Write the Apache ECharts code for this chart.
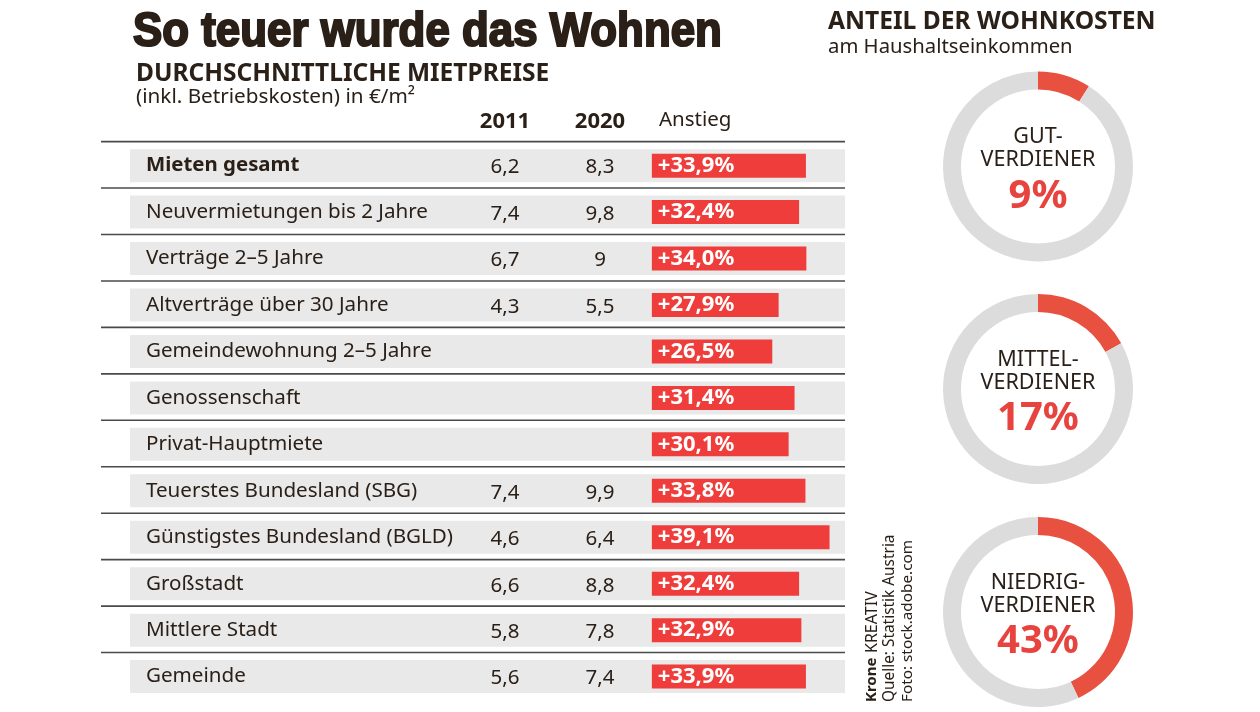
<!DOCTYPE html>
<html>
<head>
<meta charset="utf-8">
<title>So teuer wurde das Wohnen</title>
<style>
  html, body { margin: 0; padding: 0; background: #fff; }
  #main { width: 1260px; height: 712px; }
</style>
<script src="https://cdn.jsdelivr.net/npm/echarts@6/dist/echarts.min.js"></script>
</head>
<body>
<div id="main"></div>
<script>
// Tabelle
var categories = ["Mieten gesamt", "Neuvermietungen bis 2 Jahre", "Verträge 2–5 Jahre", "Altverträge über 30 Jahre",
    "Gemeindewohnung 2–5 Jahre", "Genossenschaft", "Privat-Hauptmiete", "Teuerstes Bundesland (SBG)",
    "Günstigstes Bundesland (BGLD)", "Großstadt", "Mittlere Stadt", "Gemeinde"];
var rent2011 = [6.2, 7.4, 6.7, 4.3, null, null, null, 7.4, 4.6, 6.6, 5.8, 5.6];
var rent2020 = [8.3, 9.8, 9, 5.5, null, null, null, 9.9, 6.4, 8.8, 7.8, 7.4];
var increase = [33.9, 32.4, 34.0, 27.9, 26.5, 31.4, 30.1, 33.8, 39.1, 32.4, 32.9, 33.9];

// Ringe
var ringNames = [["GUT-", "VERDIENER"], ["MITTEL-", "VERDIENER"], ["NIEDRIG-", "VERDIENER"]];
var ringShares = [9, 17, 43];

var FONT = '"Noto Sans", sans-serif';
var DARK = "#2a2018";
var RED = "#ee3d3a";

function comma(v) {
    return String(v).replace(".", ",");
}

// Linie und grauer Streifen je Zeile
function renderRow(params, api) {
    var y = api.coord([0, api.value(1)])[1];
    var rowH = api.size([0, 1])[1];
    var cs = params.coordSys;
    return {
        type: "group",
        children: [
            { type: "rect", shape: { x: cs.x, y: y - rowH / 2 - 1.6, width: cs.width, height: 1.6 }, style: { fill: "#4a4a4a" } },
            { type: "rect", shape: { x: cs.x + 29, y: y - 16.5, width: cs.width - 29, height: 33 }, style: { fill: "#e9e9e9" } }
        ]
    };
}

// Spalten 2011 und 2020
function columnSeries(values, x) {
    return {
        type: "custom",
        z: 4,
        silent: true,
        data: values.map(function (v, i) { return [i, v]; }).filter(function (d) { return d[1] !== null; }),
        encode: { x: 1, y: 0 },
        renderItem: function (params, api) {
            return {
                type: "text",
                style: {
                    x: x, y: api.coord([0, api.value(0)])[1] + 2,
                    text: comma(api.value(1)),
                    fill: DARK, fontFamily: "Noto Sans", fontSize: 20.5,
                    align: "center", verticalAlign: "middle"
                }
            };
        }
    };
}

function ringSeries(i, cy) {
    return {
        type: "pie",
        silent: true,
        clockwise: true,
        startAngle: 90,
        center: [1038, cy],
        radius: [77, 95],
        animation: false,
        label: { show: false },
        labelLine: { show: false },
        data: [
            {
                value: ringShares[i],
                itemStyle: { color: "#e8503f" },
                label: {
                    show: true,
                    position: "center",
                    padding: [14, 0, 0, 0],
                    formatter: "{a|" + ringNames[i][0] + "}\n{a|" + ringNames[i][1] + "}\n{b|" + ringShares[i] + "%}",
                    rich: {
                        a: { fontFamily: "Noto Sans", fontSize: 21.5, color: DARK, lineHeight: 23 },
                        b: { fontFamily: "Noto Sans", fontSize: 40, fontWeight: "bold", color: "#e8443f", lineHeight: 50 }
                    }
                }
            },
            { value: 100 - ringShares[i], itemStyle: { color: "#dcdcdc" } }
        ]
    };
}

function txt(x, y, text, size, weight, extra) {
    var style = { x: x, y: y, text: text, fill: DARK, font: (weight || "normal") + " " + size + "px " + FONT, verticalAlign: "middle" };
    for (var k in extra) { style[k] = extra[k]; }
    return { type: "text", style: style, silent: true };
}

function sideText(x, y, text, size, weight) {
    return {
        type: "text", silent: true, x: x, y: y, rotation: Math.PI / 2,
        style: { x: 0, y: 0, text: text, fill: DARK, font: (weight || "normal") + " " + size + "px " + FONT, verticalAlign: "middle" }
    };
}

var chart = echarts.init(document.getElementById("main"), null, { renderer: "canvas" });
chart.setOption({
    animation: false,
    backgroundColor: "#fff",
    grid: { left: 101, top: 142.4, width: 744, height: 557.4, containLabel: false },
    xAxis: { type: "value", min: -121.2, max: 42.5, show: false },
    yAxis: {
        type: "category",
        inverse: true,
        data: categories,
        z: 5,
        axisLine: { show: false },
        axisTick: { show: false },
        splitLine: { show: false },
        axisLabel: {
            inside: true,
            margin: 45,
            align: "left",
            fontFamily: "Noto Sans",
            fontSize: 20.6,
            color: DARK,
            formatter: function (v, i) { return i === 0 ? "{b|" + v + "}" : v; },
            rich: { b: { fontFamily: "Noto Sans", fontSize: 20.4, fontWeight: "bold", color: DARK } }
        }
    },
    series: [
        {
            type: "custom",
            z: 1,
            silent: true,
            data: categories.map(function (c, i) { return [0, i]; }),
            encode: { x: 0, y: 1 },
            renderItem: renderRow
        },
        {
            type: "bar",
            z: 3,
            silent: true,
            barWidth: 24,
            data: increase,
            itemStyle: { color: RED },
            label: {
                show: true,
                position: "insideLeft",
                distance: 6,
                color: "#fff",
                fontFamily: "Noto Sans",
                fontWeight: "bold",
                fontSize: 22,
                formatter: function (p) { return "+" + p.value.toFixed(1).replace(".", ",") + "%"; }
            }
        },
        columnSeries(rent2011, 505),
        columnSeries(rent2020, 600),
        ringSeries(0, 166.5),
        ringSeries(1, 389),
        ringSeries(2, 612)
    ],
    graphic: [
        {
            type: "text", silent: true, x: 133, y: 32.5, scaleX: 0.895,
            style: {
                x: 0, y: 0, text: "So teuer wurde das Wohnen", fill: DARK, verticalAlign: "middle",
                font: 'bold 49px "Liberation Sans", sans-serif',
                stroke: DARK, lineWidth: 2.2
            }
        },
        txt(136, 74, "DURCHSCHNITTLICHE MIETPREISE", 24.5, "bold"),
        txt(136, 97, "(inkl. Betriebskosten) in €/m²", 20.7),
        txt(505, 122, "2011", 22, "bold", { align: "center" }),
        txt(600, 122, "2020", 22, "bold", { align: "center" }),
        txt(659, 120, "Anstieg", 20.5),
        txt(828, 22, "ANTEIL DER WOHNKOSTEN", 24.6, "bold"),
        txt(828, 47, "am Haushaltseinkommen", 20.3),
        sideText(872, 702, "Krone", 15, "bold"),
        sideText(872, 653, "KREATIV", 16),
        sideText(890, 702, "Quelle: Statistik Austria", 15.4),
        sideText(908, 702, "Foto: stock.adobe.com", 15.3)
    ]
});
</script>
</body>
</html>
